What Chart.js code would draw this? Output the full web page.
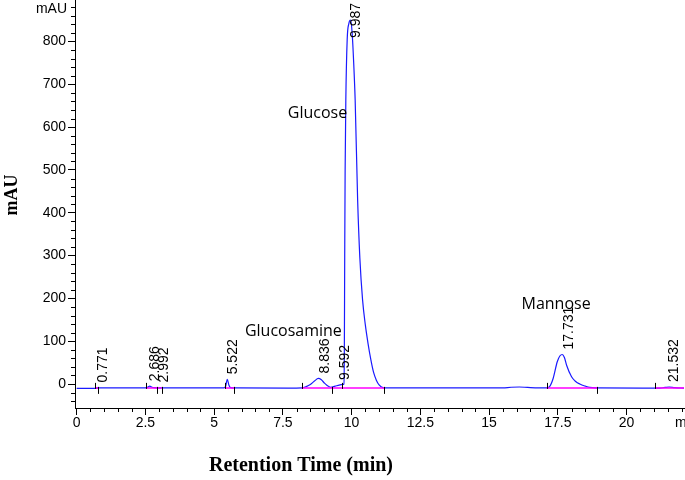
<!DOCTYPE html>
<html>
<head>
<meta charset="utf-8">
<title>Chromatogram</title>
<script src="https://cdn.jsdelivr.net/npm/chart.js@4.4.1/dist/chart.umd.min.js"></script>
<style>
  html, body { margin: 0; padding: 0; background: #fff; }
  #wrap { width: 685px; height: 480px; }
</style>
</head>
<body>
<div id="wrap"><canvas id="chromChart" width="685" height="480"></canvas></div>
<script>
// Detector trace (retention time in min, signal in mAU)
const traceTime = [
  0.0, 0.70, 0.77, 1.5, 2.5, 2.58, 2.66, 2.74, 2.85, 3.0, 4.0,
  5.35, 5.42, 5.48, 5.54, 5.60, 5.75, 7.7,
  8.2, 8.35, 8.5, 8.65, 8.79, 8.9, 9.0, 9.1, 9.24, 9.4, 9.55, 9.68,
  9.72, 9.735, 9.75, 9.765, 9.79, 9.84, 9.90, 9.96, 10.02, 10.08, 10.13,
  10.22, 10.30, 10.40, 10.50, 10.60, 10.70, 10.80, 10.90, 11.0, 11.14, 11.3,
  12.5, 15.5, 15.8, 16.1, 16.4, 16.8,
  17.09, 17.2, 17.33, 17.48, 17.58, 17.66, 17.74, 17.82, 18.0, 18.15, 18.3,
  18.5, 18.66, 18.9, 21.2, 21.4, 21.55, 21.75, 22.1
];
const traceMau = [
  -10, -10, -9, -9, -9, -7.5, -5, -7.5, -8.5, -9, -9,
  -9, -5, 11, -3, -8.5, -9, -9.5,
  -9, -6, -1, 7, 13, 10, 3, -3, -7.5, -5, -2.5, -1,
  0, 60, 300, 500, 663, 805, 842, 850, 820, 745, 663,
  430, 295, 196, 138, 94, 57, 27, 9, -2, -8.5, -9,
  -9, -9, -7.5, -7, -8, -9,
  -9, -6, 13, 52, 66, 69, 62, 44, 17, 6, 0,
  -5, -8, -9, -9.5, -8, -7, -8.5, -9.5
];

// Integration baselines (start / end in min) and their level
const baseStart = [0.67, 2.52, 2.91, 5.39, 8.18, 9.27, 9.64, 17.09, 21.03];
const baseEnd = [0.79, 2.91, 3.09, 5.72, 9.27, 9.64, 11.19, 18.93, 22.1];
const baseLevel = -9;

// Peak start (up) and end (down) marks
const markUp = [0.67, 2.52, 5.39, 8.18, 9.64, 17.09, 21.03];
const markDown = [0.79, 2.91, 3.09, 5.72, 9.27, 11.19, 18.93];

// Retention time labels and apex heights
const peakTimes = [0.771, 2.686, 2.992, 5.522, 8.836, 9.592, 9.987, 17.731, 21.532];
const peakApex = [-8, -5, -8, 11, 13, -2, 850, 69, -7];

const compoundNames = ['Glucosamine', 'Glucose', 'Mannose'];

const xTickStep = 2.5;
const yTickStep = 100;

const tracePoints = traceTime.map((t, i) => ({ x: t, y: traceMau[i] }));
const basePoints = [];
baseStart.forEach((s, i) => {
  basePoints.push({ x: s, y: baseLevel });
  basePoints.push({ x: baseEnd[i], y: baseLevel });
  basePoints.push({ x: baseEnd[i], y: null });
});

const chromAnnotations = {
  id: 'chromAnnotations',
  afterDatasetsDraw(chart) {
    const { ctx, chartArea, scales: { x, y } } = chart;
    ctx.save();

    // minor ticks on both axes
    ctx.strokeStyle = '#000';
    ctx.lineWidth = 1;
    ctx.beginPath();
    for (let t = 0.5; t < x.max; t += 0.5) {
      if (Math.abs(t / xTickStep - Math.round(t / xTickStep)) < 1e-6) continue;
      const px = Math.round(x.getPixelForValue(t)) + 0.5;
      ctx.moveTo(px, chartArea.bottom);
      ctx.lineTo(px, chartArea.bottom + 4);
    }
    for (let v = -40; v < y.max; v += 20) {
      if (v % yTickStep === 0) continue;
      const py = Math.round(y.getPixelForValue(v)) + 0.5;
      ctx.moveTo(chartArea.left - 4, py);
      ctx.lineTo(chartArea.left, py);
    }
    ctx.stroke();

    // peak start / end marks
    const by = y.getPixelForValue(baseLevel);
    ctx.beginPath();
    markUp.forEach(t => {
      const px = Math.round(x.getPixelForValue(t)) + 0.5;
      ctx.moveTo(px, by + 1);
      ctx.lineTo(px, by - 5);
    });
    markDown.forEach(t => {
      const px = Math.round(x.getPixelForValue(t)) + 0.5;
      ctx.moveTo(px, by - 1);
      ctx.lineTo(px, by + 6);
    });
    ctx.stroke();

    // retention time labels, rotated
    ctx.fillStyle = '#000';
    ctx.font = "14px 'Liberation Sans', Arial, sans-serif";
    ctx.textAlign = 'left';
    ctx.textBaseline = 'alphabetic';
    peakTimes.forEach((t, i) => {
      const label = t.toFixed(3);
      const w = ctx.measureText(label).width;
      let bottom = y.getPixelForValue(peakApex[i]) - 5;
      if (bottom - w < chartArea.top + 3) bottom = chartArea.top + 3 + w;
      ctx.save();
      ctx.translate(x.getPixelForValue(t) + 9, bottom);
      ctx.rotate(-Math.PI / 2);
      ctx.fillText(label, 0, 0);
      ctx.restore();
    });

    // compound names
    ctx.font = "16px 'Open Sans', sans-serif";
    const spots = [[6.12, 112], [7.68, 621], [16.18, 175]];
    compoundNames.forEach((name, i) => {
      ctx.fillText(name, x.getPixelForValue(spots[i][0]), y.getPixelForValue(spots[i][1]));
    });

    // unit labels and axis titles
    ctx.font = "14px 'Liberation Sans', Arial, sans-serif";
    ctx.textBaseline = 'middle';
    ctx.textAlign = 'right';
    ctx.fillText('mAU', chartArea.left - 8, 9);
    ctx.textAlign = 'left';
    ctx.fillText('min', 675, 423);

    ctx.font = "bold 20px 'Liberation Serif', 'Times New Roman', serif";
    ctx.textAlign = 'center';
    ctx.fillText('Retention Time (min)', 301, 466);

    ctx.font = "bold 18px 'Liberation Serif', 'Times New Roman', serif";
    ctx.save();
    ctx.translate(12, 195);
    ctx.rotate(-Math.PI / 2);
    ctx.fillText('mAU', 0, 0);
    ctx.restore();

    ctx.restore();
  }
};

document.addEventListener('DOMContentLoaded', () => {
  Chart.defaults.font.family = "'Liberation Sans', Arial, sans-serif";
  Chart.defaults.font.size = 14;
  Chart.defaults.color = '#000';

  const ctx = document.getElementById('chromChart').getContext('2d');

  new Chart(ctx, {
    type: 'line',
    data: {
      datasets: [
        {
          label: 'Signal',
          data: tracePoints,
          borderColor: '#1a1aff',
          borderWidth: 1.2,
          pointRadius: 0,
          cubicInterpolationMode: 'monotone',
          order: 1
        },
        {
          label: 'Baseline',
          data: basePoints,
          borderColor: '#ff00ff',
          borderWidth: 1.5,
          pointRadius: 0,
          spanGaps: false,
          order: 0
        }
      ]
    },
    options: {
      responsive: false,
      animation: false,
      devicePixelRatio: 1,
      layout: { padding: { top: 0, right: 1, bottom: 0, left: 0 } },
      plugins: {
        legend: { display: false },
        tooltip: { enabled: false }
      },
      scales: {
        x: {
          type: 'linear',
          min: -0.06,
          max: 22.09,
          grid: { display: true, drawOnChartArea: false, drawTicks: true, tickLength: 7, color: '#000' },
          border: { display: true, color: '#000', width: 1 },
          ticks: {
            stepSize: xTickStep,
            includeBounds: false,
            autoSkip: false,
            maxRotation: 0,
            padding: 0,
            callback: v => String(v)
          },
          afterFit: scale => {
            scale.height = 72;
            scale.paddingLeft = 0;
            scale.paddingRight = 0;
          }
        },
        y: {
          min: -56,
          max: 897,
          grid: { display: true, drawOnChartArea: false, drawTicks: true, tickLength: 7, color: '#000' },
          border: { display: true, color: '#000', width: 1 },
          ticks: {
            stepSize: yTickStep,
            includeBounds: false,
            padding: 2,
            callback: v => String(v)
          },
          afterFit: scale => {
            scale.width = 75;
            scale.paddingTop = 0;
            scale.paddingBottom = 0;
          }
        }
      }
    },
    plugins: [chromAnnotations]
  });
});
</script>
</body>
</html>
